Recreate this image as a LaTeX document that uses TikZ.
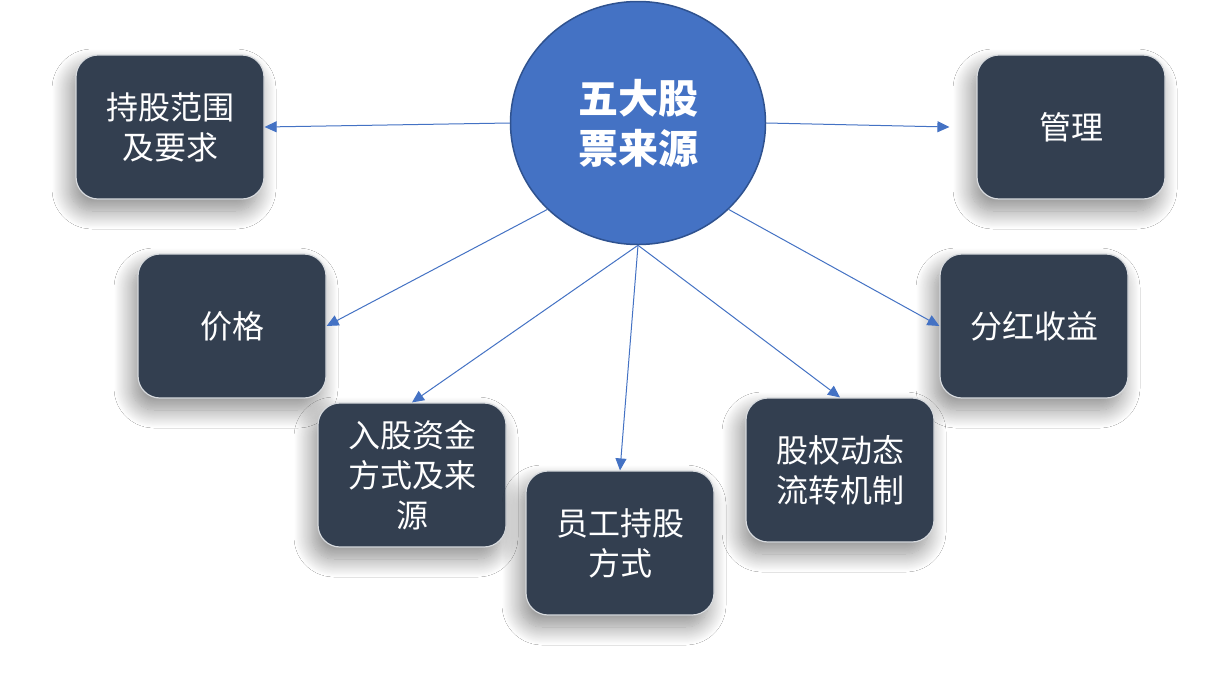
\documentclass[tikz,border=0pt]{standalone}
\usepackage{fontspec}
\newfontfamily\cjk{Noto Sans CJK SC}
\usetikzlibrary{arrows.meta, shapes.geometric, shadows.blur}
\definecolor{hubfill}{HTML}{4472C4}
\definecolor{hubline}{HTML}{2F528F}
\definecolor{boxfill}{HTML}{333F50}
\definecolor{boxline}{HTML}{D6D9DD}
\definecolor{linkblue}{HTML}{4472C4}

\begin{document}
\begin{tikzpicture}[x=1pt, y=-1pt,
    hub/.style={ellipse, minimum width=255pt, minimum height=243pt, inner sep=0pt,
        fill=hubfill, draw=hubline, line width=1.5pt, text=white, align=center,
        font=\cjk\bfseries\fontsize{40}{50}\selectfont},
    topic/.style={rounded corners=22pt, minimum width=188pt, minimum height=144pt,
        inner sep=0pt, fill=boxfill, draw=boxline, line width=1.2pt, text=white,
        align=center, font=\cjk\fontsize{32}{40}\selectfont,
        blur shadow={shadow xshift=-6pt, shadow yshift=-12pt, shadow blur radius=18pt,
            shadow blur steps=24, shadow opacity=45}},
    link/.style={draw=linkblue, line width=1pt, ->, >={Triangle[length=12pt, width=11pt]}}]
    \useasboundingbox[fill=white] (0,0) rectangle (1206,691);
    \node[topic] (scope)   at (170,127)  {持股范围\\及要求};
    \node[topic] (manage)  at (1071,127) {管理};
    \node[topic] (price)   at (232,326)  {价格};
    \node[topic] (bonus)   at (1034,326) {分红收益};
    \node[topic] (funds)   at (412,475)  {入股资金\\方式及来\\源};
    \node[topic] (mode)    at (620,543)  {员工持股\\方式};
    \node[topic] (flow)    at (840,470)  {股权动态\\流转机制};
    \node[hub]   (source)  at (638,123)  {五大股\\票来源};
    \draw[link] (source.west) -- (scope.east);
    \draw[link] (source.east) -- ([xshift=-27pt]manage.west);
    \draw[link] (source.south west) -- (price.east);
    \draw[link] (source.south east) -- (bonus.west);
    \draw[link] (source.south) -- (funds.north);
    \draw[link] (source.south) -- (mode.north);
    \draw[link] (source.south) -- (flow.north);
\end{tikzpicture}
\end{document}
